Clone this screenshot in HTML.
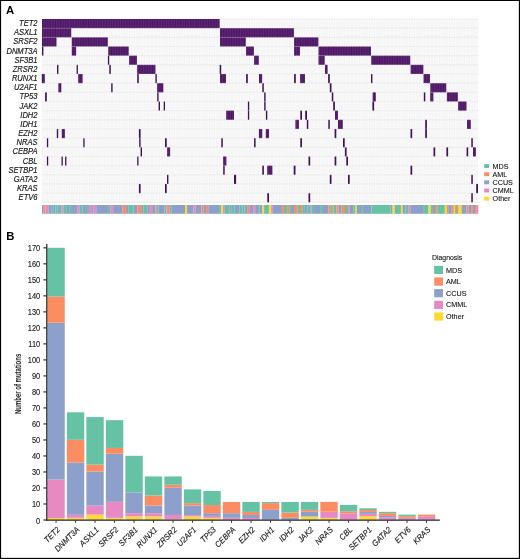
<!DOCTYPE html>
<html><head><meta charset="utf-8"><style>
html,body{margin:0;padding:0;background:#fff;}
svg{display:block;will-change:transform;}
text{font-family:"Liberation Sans", sans-serif;}
</style></head><body>
<svg width="520" height="559" viewBox="0 0 520 559">
<rect x="0" y="0" width="520" height="559" fill="#fff"/>
<defs><pattern id="cols" x="42" y="0" width="1.644" height="10" patternUnits="userSpaceOnUse"><rect x="0" y="0" width="0.5" height="10" fill="#2e0840" fill-opacity="0.75"/></pattern></defs>

<text x="6.0" y="14.4" font-size="11.3" font-weight="bold" fill="#000">A</text>
<text x="6.3" y="240.3" font-size="11.3" font-weight="bold" fill="#000">B</text>
<rect x="42.0" y="19.0" width="436.40" height="183.30" fill="#f9f9f9"/>
<path d="M42.00 19.0V202.30M44.50 19.0V202.30M47.00 19.0V202.30M49.50 19.0V202.30M52.00 19.0V202.30M54.50 19.0V202.30M57.00 19.0V202.30M59.50 19.0V202.30M62.00 19.0V202.30M64.50 19.0V202.30M67.00 19.0V202.30M69.50 19.0V202.30M72.00 19.0V202.30M74.50 19.0V202.30M77.00 19.0V202.30M79.50 19.0V202.30M82.00 19.0V202.30M84.50 19.0V202.30M87.00 19.0V202.30M89.50 19.0V202.30M92.00 19.0V202.30M94.50 19.0V202.30M97.00 19.0V202.30M99.50 19.0V202.30M102.00 19.0V202.30M104.50 19.0V202.30M107.00 19.0V202.30M109.50 19.0V202.30M112.00 19.0V202.30M114.50 19.0V202.30M117.00 19.0V202.30M119.50 19.0V202.30M122.00 19.0V202.30M124.50 19.0V202.30M127.00 19.0V202.30M129.50 19.0V202.30M132.00 19.0V202.30M134.50 19.0V202.30M137.00 19.0V202.30M139.50 19.0V202.30M142.00 19.0V202.30M144.50 19.0V202.30M147.00 19.0V202.30M149.50 19.0V202.30M152.00 19.0V202.30M154.50 19.0V202.30M157.00 19.0V202.30M159.50 19.0V202.30M162.00 19.0V202.30M164.50 19.0V202.30M167.00 19.0V202.30M169.50 19.0V202.30M172.00 19.0V202.30M174.50 19.0V202.30M177.00 19.0V202.30M179.50 19.0V202.30M182.00 19.0V202.30M184.50 19.0V202.30M187.00 19.0V202.30M189.50 19.0V202.30M192.00 19.0V202.30M194.50 19.0V202.30M197.00 19.0V202.30M199.50 19.0V202.30M202.00 19.0V202.30M204.50 19.0V202.30M207.00 19.0V202.30M209.50 19.0V202.30M212.00 19.0V202.30M214.50 19.0V202.30M217.00 19.0V202.30M219.50 19.0V202.30M222.00 19.0V202.30M224.50 19.0V202.30M227.00 19.0V202.30M229.50 19.0V202.30M232.00 19.0V202.30M234.50 19.0V202.30M237.00 19.0V202.30M239.50 19.0V202.30M242.00 19.0V202.30M244.50 19.0V202.30M247.00 19.0V202.30M249.50 19.0V202.30M252.00 19.0V202.30M254.50 19.0V202.30M257.00 19.0V202.30M259.50 19.0V202.30M262.00 19.0V202.30M264.50 19.0V202.30M267.00 19.0V202.30M269.50 19.0V202.30M272.00 19.0V202.30M274.50 19.0V202.30M277.00 19.0V202.30M279.50 19.0V202.30M282.00 19.0V202.30M284.50 19.0V202.30M287.00 19.0V202.30M289.50 19.0V202.30M292.00 19.0V202.30M294.50 19.0V202.30M297.00 19.0V202.30M299.50 19.0V202.30M302.00 19.0V202.30M304.50 19.0V202.30M307.00 19.0V202.30M309.50 19.0V202.30M312.00 19.0V202.30M314.50 19.0V202.30M317.00 19.0V202.30M319.50 19.0V202.30M322.00 19.0V202.30M324.50 19.0V202.30M327.00 19.0V202.30M329.50 19.0V202.30M332.00 19.0V202.30M334.50 19.0V202.30M337.00 19.0V202.30M339.50 19.0V202.30M342.00 19.0V202.30M344.50 19.0V202.30M347.00 19.0V202.30M349.50 19.0V202.30M352.00 19.0V202.30M354.50 19.0V202.30M357.00 19.0V202.30M359.50 19.0V202.30M362.00 19.0V202.30M364.50 19.0V202.30M367.00 19.0V202.30M369.50 19.0V202.30M372.00 19.0V202.30M374.50 19.0V202.30M377.00 19.0V202.30M379.50 19.0V202.30M382.00 19.0V202.30M384.50 19.0V202.30M387.00 19.0V202.30M389.50 19.0V202.30M392.00 19.0V202.30M394.50 19.0V202.30M397.00 19.0V202.30M399.50 19.0V202.30M402.00 19.0V202.30M404.50 19.0V202.30M407.00 19.0V202.30M409.50 19.0V202.30M412.00 19.0V202.30M414.50 19.0V202.30M417.00 19.0V202.30M419.50 19.0V202.30M422.00 19.0V202.30M424.50 19.0V202.30M427.00 19.0V202.30M429.50 19.0V202.30M432.00 19.0V202.30M434.50 19.0V202.30M437.00 19.0V202.30M439.50 19.0V202.30M442.00 19.0V202.30M444.50 19.0V202.30M447.00 19.0V202.30M449.50 19.0V202.30M452.00 19.0V202.30M454.50 19.0V202.30M457.00 19.0V202.30M459.50 19.0V202.30M462.00 19.0V202.30M464.50 19.0V202.30M467.00 19.0V202.30M469.50 19.0V202.30M472.00 19.0V202.30M474.50 19.0V202.30M477.00 19.0V202.30" stroke="#efefef" stroke-width="0.5" fill="none"/>
<path d="M42.0 19.00H478.4M42.0 28.16H478.4M42.0 37.33H478.4M42.0 46.49H478.4M42.0 55.66H478.4M42.0 64.82H478.4M42.0 73.99H478.4M42.0 83.16H478.4M42.0 92.32H478.4M42.0 101.48H478.4M42.0 110.65H478.4M42.0 119.81H478.4M42.0 128.98H478.4M42.0 138.14H478.4M42.0 147.31H478.4M42.0 156.47H478.4M42.0 165.64H478.4M42.0 174.80H478.4M42.0 183.97H478.4M42.0 193.13H478.4M42.0 202.30H478.4" stroke="#e6e6e6" stroke-width="0.7" fill="none"/>
<rect x="42.00" y="19.00" width="177.60" height="9.16" fill="#5f2578"/>
<rect x="42.00" y="19.00" width="177.60" height="9.16" fill="url(#cols)"/>
<rect x="42.00" y="28.16" width="29.20" height="9.16" fill="#5f2578"/>
<rect x="42.00" y="28.16" width="29.20" height="9.16" fill="url(#cols)"/>
<rect x="220.00" y="28.16" width="73.90" height="9.16" fill="#5f2578"/>
<rect x="220.00" y="28.16" width="73.90" height="9.16" fill="url(#cols)"/>
<rect x="42.00" y="37.33" width="14.50" height="9.16" fill="#5f2578"/>
<rect x="42.00" y="37.33" width="14.50" height="9.16" fill="url(#cols)"/>
<rect x="71.80" y="37.33" width="36.00" height="9.16" fill="#5f2578"/>
<rect x="71.80" y="37.33" width="36.00" height="9.16" fill="url(#cols)"/>
<rect x="220.00" y="37.33" width="25.80" height="9.16" fill="#5f2578"/>
<rect x="220.00" y="37.33" width="25.80" height="9.16" fill="url(#cols)"/>
<rect x="294.10" y="37.33" width="24.20" height="9.16" fill="#5f2578"/>
<rect x="294.10" y="37.33" width="24.20" height="9.16" fill="url(#cols)"/>
<rect x="42.00" y="46.49" width="1.40" height="9.16" fill="#401255"/>
<rect x="71.80" y="46.49" width="4.30" height="9.16" fill="#5f2578"/>
<rect x="71.80" y="46.49" width="4.30" height="9.16" fill="url(#cols)"/>
<rect x="108.30" y="46.49" width="20.40" height="9.16" fill="#5f2578"/>
<rect x="108.30" y="46.49" width="20.40" height="9.16" fill="url(#cols)"/>
<rect x="246.10" y="46.49" width="7.80" height="9.16" fill="#5f2578"/>
<rect x="246.10" y="46.49" width="7.80" height="9.16" fill="url(#cols)"/>
<rect x="294.10" y="46.49" width="5.90" height="9.16" fill="#5f2578"/>
<rect x="294.10" y="46.49" width="5.90" height="9.16" fill="url(#cols)"/>
<rect x="318.60" y="46.49" width="52.40" height="9.16" fill="#5f2578"/>
<rect x="318.60" y="46.49" width="52.40" height="9.16" fill="url(#cols)"/>
<rect x="107.90" y="55.66" width="1.30" height="9.16" fill="#401255"/>
<rect x="129.20" y="55.66" width="7.70" height="9.16" fill="#5f2578"/>
<rect x="129.20" y="55.66" width="7.70" height="9.16" fill="url(#cols)"/>
<rect x="254.20" y="55.66" width="4.60" height="9.16" fill="#5f2578"/>
<rect x="254.20" y="55.66" width="4.60" height="9.16" fill="url(#cols)"/>
<rect x="318.60" y="55.66" width="6.10" height="9.16" fill="#5f2578"/>
<rect x="318.60" y="55.66" width="6.10" height="9.16" fill="url(#cols)"/>
<rect x="371.30" y="55.66" width="38.90" height="9.16" fill="#5f2578"/>
<rect x="371.30" y="55.66" width="38.90" height="9.16" fill="url(#cols)"/>
<rect x="57.00" y="64.82" width="1.40" height="9.16" fill="#401255"/>
<rect x="76.60" y="64.82" width="1.30" height="9.16" fill="#401255"/>
<rect x="109.30" y="64.82" width="1.50" height="9.16" fill="#401255"/>
<rect x="137.20" y="64.82" width="18.20" height="9.16" fill="#5f2578"/>
<rect x="137.20" y="64.82" width="18.20" height="9.16" fill="url(#cols)"/>
<rect x="219.70" y="64.82" width="1.50" height="9.16" fill="#401255"/>
<rect x="325.00" y="64.82" width="2.60" height="9.16" fill="#5f2578"/>
<rect x="325.00" y="64.82" width="2.60" height="9.16" fill="url(#cols)"/>
<rect x="410.70" y="64.82" width="12.60" height="9.16" fill="#5f2578"/>
<rect x="410.70" y="64.82" width="12.60" height="9.16" fill="url(#cols)"/>
<rect x="41.80" y="73.99" width="3.00" height="9.16" fill="#5f2578"/>
<rect x="41.80" y="73.99" width="3.00" height="9.16" fill="url(#cols)"/>
<rect x="78.30" y="73.99" width="4.30" height="9.16" fill="#5f2578"/>
<rect x="78.30" y="73.99" width="4.30" height="9.16" fill="url(#cols)"/>
<rect x="137.20" y="73.99" width="1.60" height="9.16" fill="#401255"/>
<rect x="155.40" y="73.99" width="1.40" height="9.16" fill="#401255"/>
<rect x="220.00" y="73.99" width="6.00" height="9.16" fill="#5f2578"/>
<rect x="220.00" y="73.99" width="6.00" height="9.16" fill="url(#cols)"/>
<rect x="246.10" y="73.99" width="1.70" height="9.16" fill="#401255"/>
<rect x="259.00" y="73.99" width="3.10" height="9.16" fill="#5f2578"/>
<rect x="259.00" y="73.99" width="3.10" height="9.16" fill="url(#cols)"/>
<rect x="294.10" y="73.99" width="1.70" height="9.16" fill="#401255"/>
<rect x="300.20" y="73.99" width="4.80" height="9.16" fill="#5f2578"/>
<rect x="300.20" y="73.99" width="4.80" height="9.16" fill="url(#cols)"/>
<rect x="328.10" y="73.99" width="1.70" height="9.16" fill="#401255"/>
<rect x="371.00" y="73.99" width="1.40" height="9.16" fill="#401255"/>
<rect x="423.60" y="73.99" width="6.40" height="9.16" fill="#5f2578"/>
<rect x="423.60" y="73.99" width="6.40" height="9.16" fill="url(#cols)"/>
<rect x="58.40" y="83.16" width="2.90" height="9.16" fill="#5f2578"/>
<rect x="58.40" y="83.16" width="2.90" height="9.16" fill="url(#cols)"/>
<rect x="111.20" y="83.16" width="1.40" height="9.16" fill="#401255"/>
<rect x="157.20" y="83.16" width="6.10" height="9.16" fill="#5f2578"/>
<rect x="157.20" y="83.16" width="6.10" height="9.16" fill="url(#cols)"/>
<rect x="262.30" y="83.16" width="1.50" height="9.16" fill="#401255"/>
<rect x="329.80" y="83.16" width="1.70" height="9.16" fill="#401255"/>
<rect x="430.40" y="83.16" width="15.80" height="9.16" fill="#5f2578"/>
<rect x="430.40" y="83.16" width="15.80" height="9.16" fill="url(#cols)"/>
<rect x="45.10" y="92.32" width="1.70" height="9.16" fill="#401255"/>
<rect x="157.20" y="92.32" width="1.40" height="9.16" fill="#401255"/>
<rect x="264.20" y="92.32" width="1.40" height="9.16" fill="#401255"/>
<rect x="331.80" y="92.32" width="1.50" height="9.16" fill="#401255"/>
<rect x="372.70" y="92.32" width="3.10" height="9.16" fill="#5f2578"/>
<rect x="372.70" y="92.32" width="3.10" height="9.16" fill="url(#cols)"/>
<rect x="423.80" y="92.32" width="1.50" height="9.16" fill="#401255"/>
<rect x="430.30" y="92.32" width="3.00" height="9.16" fill="#5f2578"/>
<rect x="430.30" y="92.32" width="3.00" height="9.16" fill="url(#cols)"/>
<rect x="446.90" y="92.32" width="11.00" height="9.16" fill="#5f2578"/>
<rect x="446.90" y="92.32" width="11.00" height="9.16" fill="url(#cols)"/>
<rect x="158.60" y="101.48" width="1.40" height="9.16" fill="#401255"/>
<rect x="163.70" y="101.48" width="1.30" height="9.16" fill="#401255"/>
<rect x="247.90" y="101.48" width="1.30" height="9.16" fill="#401255"/>
<rect x="264.20" y="101.48" width="1.40" height="9.16" fill="#401255"/>
<rect x="333.20" y="101.48" width="1.70" height="9.16" fill="#401255"/>
<rect x="372.40" y="101.48" width="1.70" height="9.16" fill="#401255"/>
<rect x="458.20" y="101.48" width="8.20" height="9.16" fill="#5f2578"/>
<rect x="458.20" y="101.48" width="8.20" height="9.16" fill="url(#cols)"/>
<rect x="226.30" y="110.65" width="7.70" height="9.16" fill="#5f2578"/>
<rect x="226.30" y="110.65" width="7.70" height="9.16" fill="url(#cols)"/>
<rect x="247.90" y="110.65" width="1.30" height="9.16" fill="#401255"/>
<rect x="265.90" y="110.65" width="1.40" height="9.16" fill="#401255"/>
<rect x="300.30" y="110.65" width="1.70" height="9.16" fill="#401255"/>
<rect x="305.20" y="110.65" width="1.80" height="9.16" fill="#401255"/>
<rect x="335.00" y="110.65" width="3.00" height="9.16" fill="#5f2578"/>
<rect x="335.00" y="110.65" width="3.00" height="9.16" fill="url(#cols)"/>
<rect x="295.50" y="119.81" width="3.40" height="9.16" fill="#5f2578"/>
<rect x="295.50" y="119.81" width="3.40" height="9.16" fill="url(#cols)"/>
<rect x="306.80" y="119.81" width="1.50" height="9.16" fill="#401255"/>
<rect x="328.30" y="119.81" width="1.50" height="9.16" fill="#401255"/>
<rect x="338.00" y="119.81" width="4.80" height="9.16" fill="#5f2578"/>
<rect x="338.00" y="119.81" width="4.80" height="9.16" fill="url(#cols)"/>
<rect x="425.20" y="119.81" width="1.70" height="9.16" fill="#401255"/>
<rect x="467.00" y="119.81" width="3.80" height="9.16" fill="#5f2578"/>
<rect x="467.00" y="119.81" width="3.80" height="9.16" fill="url(#cols)"/>
<rect x="56.80" y="128.98" width="1.40" height="9.16" fill="#401255"/>
<rect x="61.80" y="128.98" width="3.10" height="9.16" fill="#5f2578"/>
<rect x="61.80" y="128.98" width="3.10" height="9.16" fill="url(#cols)"/>
<rect x="138.90" y="128.98" width="1.70" height="9.16" fill="#401255"/>
<rect x="258.90" y="128.98" width="3.30" height="9.16" fill="#5f2578"/>
<rect x="258.90" y="128.98" width="3.30" height="9.16" fill="url(#cols)"/>
<rect x="265.80" y="128.98" width="3.20" height="9.16" fill="#5f2578"/>
<rect x="265.80" y="128.98" width="3.20" height="9.16" fill="url(#cols)"/>
<rect x="334.60" y="128.98" width="1.70" height="9.16" fill="#401255"/>
<rect x="410.50" y="128.98" width="1.70" height="9.16" fill="#401255"/>
<rect x="425.20" y="128.98" width="1.70" height="9.16" fill="#401255"/>
<rect x="46.90" y="138.14" width="1.30" height="9.16" fill="#401255"/>
<rect x="83.30" y="138.14" width="1.30" height="9.16" fill="#401255"/>
<rect x="139.20" y="138.14" width="1.40" height="9.16" fill="#401255"/>
<rect x="165.00" y="138.14" width="1.70" height="9.16" fill="#401255"/>
<rect x="221.30" y="138.14" width="1.50" height="9.16" fill="#401255"/>
<rect x="254.10" y="138.14" width="1.50" height="9.16" fill="#401255"/>
<rect x="300.30" y="138.14" width="1.70" height="9.16" fill="#401255"/>
<rect x="343.00" y="138.14" width="1.70" height="9.16" fill="#401255"/>
<rect x="471.30" y="138.14" width="1.50" height="9.16" fill="#401255"/>
<rect x="140.60" y="147.31" width="1.40" height="9.16" fill="#401255"/>
<rect x="167.20" y="147.31" width="2.90" height="9.16" fill="#5f2578"/>
<rect x="167.20" y="147.31" width="2.90" height="9.16" fill="url(#cols)"/>
<rect x="344.90" y="147.31" width="1.70" height="9.16" fill="#401255"/>
<rect x="433.50" y="147.31" width="1.70" height="9.16" fill="#401255"/>
<rect x="446.40" y="147.31" width="1.70" height="9.16" fill="#401255"/>
<rect x="466.60" y="147.31" width="1.60" height="9.16" fill="#401255"/>
<rect x="473.00" y="147.31" width="2.90" height="9.16" fill="#5f2578"/>
<rect x="473.00" y="147.31" width="2.90" height="9.16" fill="url(#cols)"/>
<rect x="46.90" y="156.47" width="1.30" height="9.16" fill="#401255"/>
<rect x="61.50" y="156.47" width="1.30" height="9.16" fill="#401255"/>
<rect x="65.10" y="156.47" width="1.30" height="9.16" fill="#401255"/>
<rect x="137.20" y="156.47" width="1.30" height="9.16" fill="#401255"/>
<rect x="223.20" y="156.47" width="3.10" height="9.16" fill="#5f2578"/>
<rect x="223.20" y="156.47" width="3.10" height="9.16" fill="url(#cols)"/>
<rect x="308.50" y="156.47" width="1.70" height="9.16" fill="#401255"/>
<rect x="334.60" y="156.47" width="1.70" height="9.16" fill="#401255"/>
<rect x="346.30" y="156.47" width="1.70" height="9.16" fill="#401255"/>
<rect x="223.20" y="165.64" width="1.50" height="9.16" fill="#401255"/>
<rect x="262.30" y="165.64" width="1.60" height="9.16" fill="#401255"/>
<rect x="267.30" y="165.64" width="5.00" height="9.16" fill="#5f2578"/>
<rect x="267.30" y="165.64" width="5.00" height="9.16" fill="url(#cols)"/>
<rect x="293.70" y="165.64" width="1.80" height="9.16" fill="#401255"/>
<rect x="410.50" y="165.64" width="1.70" height="9.16" fill="#401255"/>
<rect x="167.00" y="174.80" width="1.40" height="9.16" fill="#401255"/>
<rect x="234.00" y="174.80" width="2.10" height="9.16" fill="#401255"/>
<rect x="329.80" y="174.80" width="1.70" height="9.16" fill="#401255"/>
<rect x="348.00" y="174.80" width="1.70" height="9.16" fill="#401255"/>
<rect x="471.30" y="174.80" width="1.50" height="9.16" fill="#401255"/>
<rect x="138.90" y="183.97" width="1.70" height="9.16" fill="#401255"/>
<rect x="165.00" y="183.97" width="1.70" height="9.16" fill="#401255"/>
<rect x="476.20" y="183.97" width="1.80" height="9.16" fill="#401255"/>
<rect x="267.30" y="193.13" width="1.70" height="9.16" fill="#401255"/>
<rect x="308.50" y="193.13" width="1.70" height="9.16" fill="#401255"/>
<rect x="471.30" y="193.13" width="1.50" height="9.16" fill="#401255"/>
<path d="M42.0 28.16H478.4M42.0 37.33H478.4M42.0 46.49H478.4M42.0 55.66H478.4M42.0 64.82H478.4M42.0 73.99H478.4M42.0 83.16H478.4M42.0 92.32H478.4M42.0 101.48H478.4M42.0 110.65H478.4M42.0 119.81H478.4M42.0 128.98H478.4M42.0 138.14H478.4M42.0 147.31H478.4M42.0 156.47H478.4M42.0 165.64H478.4M42.0 174.80H478.4M42.0 183.97H478.4M42.0 193.13H478.4" stroke="#fff" stroke-opacity="0.22" stroke-width="0.8" fill="none"/>
<text transform="translate(37.5,26.13) scale(0.9,1)" font-size="8.4" font-style="italic" text-anchor="end" fill="#1a1a1a" stroke="#1a1a1a" stroke-width="0.18">TET2</text>
<text transform="translate(37.5,35.30) scale(0.9,1)" font-size="8.4" font-style="italic" text-anchor="end" fill="#1a1a1a" stroke="#1a1a1a" stroke-width="0.18">ASXL1</text>
<text transform="translate(37.5,44.46) scale(0.9,1)" font-size="8.4" font-style="italic" text-anchor="end" fill="#1a1a1a" stroke="#1a1a1a" stroke-width="0.18">SRSF2</text>
<text transform="translate(37.5,53.63) scale(0.9,1)" font-size="8.4" font-style="italic" text-anchor="end" fill="#1a1a1a" stroke="#1a1a1a" stroke-width="0.18">DNMT3A</text>
<text transform="translate(37.5,62.79) scale(0.9,1)" font-size="8.4" font-style="italic" text-anchor="end" fill="#1a1a1a" stroke="#1a1a1a" stroke-width="0.18">SF3B1</text>
<text transform="translate(37.5,71.96) scale(0.9,1)" font-size="8.4" font-style="italic" text-anchor="end" fill="#1a1a1a" stroke="#1a1a1a" stroke-width="0.18">ZRSR2</text>
<text transform="translate(37.5,81.12) scale(0.9,1)" font-size="8.4" font-style="italic" text-anchor="end" fill="#1a1a1a" stroke="#1a1a1a" stroke-width="0.18">RUNX1</text>
<text transform="translate(37.5,90.29) scale(0.9,1)" font-size="8.4" font-style="italic" text-anchor="end" fill="#1a1a1a" stroke="#1a1a1a" stroke-width="0.18">U2AF1</text>
<text transform="translate(37.5,99.45) scale(0.9,1)" font-size="8.4" font-style="italic" text-anchor="end" fill="#1a1a1a" stroke="#1a1a1a" stroke-width="0.18">TP53</text>
<text transform="translate(37.5,108.62) scale(0.9,1)" font-size="8.4" font-style="italic" text-anchor="end" fill="#1a1a1a" stroke="#1a1a1a" stroke-width="0.18">JAK2</text>
<text transform="translate(37.5,117.78) scale(0.9,1)" font-size="8.4" font-style="italic" text-anchor="end" fill="#1a1a1a" stroke="#1a1a1a" stroke-width="0.18">IDH2</text>
<text transform="translate(37.5,126.95) scale(0.9,1)" font-size="8.4" font-style="italic" text-anchor="end" fill="#1a1a1a" stroke="#1a1a1a" stroke-width="0.18">IDH1</text>
<text transform="translate(37.5,136.11) scale(0.9,1)" font-size="8.4" font-style="italic" text-anchor="end" fill="#1a1a1a" stroke="#1a1a1a" stroke-width="0.18">EZH2</text>
<text transform="translate(37.5,145.28) scale(0.9,1)" font-size="8.4" font-style="italic" text-anchor="end" fill="#1a1a1a" stroke="#1a1a1a" stroke-width="0.18">NRAS</text>
<text transform="translate(37.5,154.44) scale(0.9,1)" font-size="8.4" font-style="italic" text-anchor="end" fill="#1a1a1a" stroke="#1a1a1a" stroke-width="0.18">CEBPA</text>
<text transform="translate(37.5,163.61) scale(0.9,1)" font-size="8.4" font-style="italic" text-anchor="end" fill="#1a1a1a" stroke="#1a1a1a" stroke-width="0.18">CBL</text>
<text transform="translate(37.5,172.77) scale(0.9,1)" font-size="8.4" font-style="italic" text-anchor="end" fill="#1a1a1a" stroke="#1a1a1a" stroke-width="0.18">SETBP1</text>
<text transform="translate(37.5,181.94) scale(0.9,1)" font-size="8.4" font-style="italic" text-anchor="end" fill="#1a1a1a" stroke="#1a1a1a" stroke-width="0.18">GATA2</text>
<text transform="translate(37.5,191.10) scale(0.9,1)" font-size="8.4" font-style="italic" text-anchor="end" fill="#1a1a1a" stroke="#1a1a1a" stroke-width="0.18">KRAS</text>
<text transform="translate(37.5,200.27) scale(0.9,1)" font-size="8.4" font-style="italic" text-anchor="end" fill="#1a1a1a" stroke="#1a1a1a" stroke-width="0.18">ETV6</text>
<rect x="42.00" y="205" width="1.65" height="8.8" fill="#8da0cb"/>
<rect x="43.60" y="205" width="2.05" height="8.8" fill="#fc8d62"/>
<rect x="45.60" y="205" width="3.15" height="8.8" fill="#e78ac3"/>
<rect x="48.70" y="205" width="3.05" height="8.8" fill="#8da0cb"/>
<rect x="51.70" y="205" width="2.15" height="8.8" fill="#66c2a5"/>
<rect x="53.80" y="205" width="1.75" height="8.8" fill="#8da0cb"/>
<rect x="55.50" y="205" width="1.85" height="8.8" fill="#66c2a5"/>
<rect x="57.30" y="205" width="1.65" height="8.8" fill="#8da0cb"/>
<rect x="58.90" y="205" width="2.65" height="8.8" fill="#66c2a5"/>
<rect x="61.50" y="205" width="1.95" height="8.8" fill="#e78ac3"/>
<rect x="63.40" y="205" width="3.45" height="8.8" fill="#66c2a5"/>
<rect x="66.80" y="205" width="3.05" height="8.8" fill="#8da0cb"/>
<rect x="69.80" y="205" width="2.25" height="8.8" fill="#66c2a5"/>
<rect x="72.00" y="205" width="5.65" height="8.8" fill="#8da0cb"/>
<rect x="77.60" y="205" width="2.25" height="8.8" fill="#e78ac3"/>
<rect x="79.80" y="205" width="2.65" height="8.8" fill="#66c2a5"/>
<rect x="82.40" y="205" width="3.55" height="8.8" fill="#8da0cb"/>
<rect x="85.90" y="205" width="2.15" height="8.8" fill="#66c2a5"/>
<rect x="88.00" y="205" width="0.95" height="8.8" fill="#8da0cb"/>
<rect x="88.90" y="205" width="2.35" height="8.8" fill="#e78ac3"/>
<rect x="91.20" y="205" width="2.05" height="8.8" fill="#8da0cb"/>
<rect x="93.20" y="205" width="3.05" height="8.8" fill="#e78ac3"/>
<rect x="96.20" y="205" width="11.75" height="8.8" fill="#8da0cb"/>
<rect x="107.90" y="205" width="2.25" height="8.8" fill="#66c2a5"/>
<rect x="110.10" y="205" width="3.05" height="8.8" fill="#e78ac3"/>
<rect x="113.10" y="205" width="9.55" height="8.8" fill="#8da0cb"/>
<rect x="122.60" y="205" width="3.55" height="8.8" fill="#fc8d62"/>
<rect x="126.10" y="205" width="2.65" height="8.8" fill="#8da0cb"/>
<rect x="128.70" y="205" width="4.85" height="8.8" fill="#66c2a5"/>
<rect x="133.50" y="205" width="3.95" height="8.8" fill="#8da0cb"/>
<rect x="137.40" y="205" width="3.85" height="8.8" fill="#fc8d62"/>
<rect x="141.20" y="205" width="2.25" height="8.8" fill="#8da0cb"/>
<rect x="143.40" y="205" width="4.35" height="8.8" fill="#66c2a5"/>
<rect x="147.70" y="205" width="1.35" height="8.8" fill="#8da0cb"/>
<rect x="149.00" y="205" width="3.15" height="8.8" fill="#e78ac3"/>
<rect x="152.10" y="205" width="3.45" height="8.8" fill="#8da0cb"/>
<rect x="155.50" y="205" width="1.35" height="8.8" fill="#fc8d62"/>
<rect x="156.80" y="205" width="1.75" height="8.8" fill="#66c2a5"/>
<rect x="158.50" y="205" width="6.15" height="8.8" fill="#8da0cb"/>
<rect x="164.60" y="205" width="1.75" height="8.8" fill="#66c2a5"/>
<rect x="166.30" y="205" width="1.75" height="8.8" fill="#e78ac3"/>
<rect x="168.00" y="205" width="1.85" height="8.8" fill="#fc8d62"/>
<rect x="169.80" y="205" width="1.75" height="8.8" fill="#66c2a5"/>
<rect x="171.50" y="205" width="13.55" height="8.8" fill="#8da0cb"/>
<rect x="185.00" y="205" width="2.15" height="8.8" fill="#ffd92f"/>
<rect x="187.10" y="205" width="6.15" height="8.8" fill="#8da0cb"/>
<rect x="193.20" y="205" width="2.15" height="8.8" fill="#e78ac3"/>
<rect x="195.30" y="205" width="6.15" height="8.8" fill="#8da0cb"/>
<rect x="201.40" y="205" width="2.15" height="8.8" fill="#fc8d62"/>
<rect x="203.50" y="205" width="2.65" height="8.8" fill="#8da0cb"/>
<rect x="206.10" y="205" width="2.25" height="8.8" fill="#fc8d62"/>
<rect x="208.30" y="205" width="10.85" height="8.8" fill="#8da0cb"/>
<rect x="219.10" y="205" width="2.25" height="8.8" fill="#66c2a5"/>
<rect x="221.30" y="205" width="1.75" height="8.8" fill="#ffd92f"/>
<rect x="223.00" y="205" width="1.85" height="8.8" fill="#e78ac3"/>
<rect x="224.80" y="205" width="4.75" height="8.8" fill="#66c2a5"/>
<rect x="229.50" y="205" width="2.25" height="8.8" fill="#8da0cb"/>
<rect x="231.70" y="205" width="3.05" height="8.8" fill="#66c2a5"/>
<rect x="234.70" y="205" width="4.85" height="8.8" fill="#8da0cb"/>
<rect x="239.50" y="205" width="3.05" height="8.8" fill="#66c2a5"/>
<rect x="242.50" y="205" width="2.05" height="8.8" fill="#8da0cb"/>
<rect x="244.50" y="205" width="1.55" height="8.8" fill="#66c2a5"/>
<rect x="246.00" y="205" width="1.75" height="8.8" fill="#8da0cb"/>
<rect x="247.70" y="205" width="2.15" height="8.8" fill="#fc8d62"/>
<rect x="249.80" y="205" width="3.95" height="8.8" fill="#8da0cb"/>
<rect x="253.70" y="205" width="2.25" height="8.8" fill="#e78ac3"/>
<rect x="255.90" y="205" width="2.15" height="8.8" fill="#8da0cb"/>
<rect x="258.00" y="205" width="1.55" height="8.8" fill="#66c2a5"/>
<rect x="259.50" y="205" width="2.95" height="8.8" fill="#8da0cb"/>
<rect x="262.40" y="205" width="1.75" height="8.8" fill="#ffd92f"/>
<rect x="264.10" y="205" width="4.85" height="8.8" fill="#66c2a5"/>
<rect x="268.90" y="205" width="2.25" height="8.8" fill="#ffd92f"/>
<rect x="271.10" y="205" width="1.75" height="8.8" fill="#e78ac3"/>
<rect x="272.80" y="205" width="9.15" height="8.8" fill="#8da0cb"/>
<rect x="281.90" y="205" width="2.15" height="8.8" fill="#fc8d62"/>
<rect x="284.00" y="205" width="3.15" height="8.8" fill="#66c2a5"/>
<rect x="287.10" y="205" width="2.15" height="8.8" fill="#fc8d62"/>
<rect x="289.20" y="205" width="1.85" height="8.8" fill="#66c2a5"/>
<rect x="291.00" y="205" width="3.05" height="8.8" fill="#8da0cb"/>
<rect x="294.00" y="205" width="3.45" height="8.8" fill="#fc8d62"/>
<rect x="297.40" y="205" width="2.65" height="8.8" fill="#66c2a5"/>
<rect x="300.00" y="205" width="2.25" height="8.8" fill="#fc8d62"/>
<rect x="302.20" y="205" width="2.65" height="8.8" fill="#66c2a5"/>
<rect x="304.80" y="205" width="2.65" height="8.8" fill="#8da0cb"/>
<rect x="307.40" y="205" width="2.65" height="8.8" fill="#66c2a5"/>
<rect x="310.00" y="205" width="1.35" height="8.8" fill="#e78ac3"/>
<rect x="311.30" y="205" width="2.65" height="8.8" fill="#66c2a5"/>
<rect x="313.90" y="205" width="6.95" height="8.8" fill="#8da0cb"/>
<rect x="320.80" y="205" width="2.25" height="8.8" fill="#66c2a5"/>
<rect x="323.00" y="205" width="5.25" height="8.8" fill="#8da0cb"/>
<rect x="328.20" y="205" width="2.15" height="8.8" fill="#fc8d62"/>
<rect x="330.30" y="205" width="1.85" height="8.8" fill="#66c2a5"/>
<rect x="332.10" y="205" width="1.35" height="8.8" fill="#fc8d62"/>
<rect x="333.40" y="205" width="3.05" height="8.8" fill="#66c2a5"/>
<rect x="336.40" y="205" width="2.15" height="8.8" fill="#fc8d62"/>
<rect x="338.50" y="205" width="3.15" height="8.8" fill="#8da0cb"/>
<rect x="341.60" y="205" width="3.45" height="8.8" fill="#fc8d62"/>
<rect x="345.00" y="205" width="3.15" height="8.8" fill="#66c2a5"/>
<rect x="348.10" y="205" width="1.75" height="8.8" fill="#e78ac3"/>
<rect x="349.80" y="205" width="3.55" height="8.8" fill="#8da0cb"/>
<rect x="353.30" y="205" width="1.75" height="8.8" fill="#66c2a5"/>
<rect x="355.00" y="205" width="1.75" height="8.8" fill="#ffd92f"/>
<rect x="356.70" y="205" width="4.35" height="8.8" fill="#8da0cb"/>
<rect x="361.00" y="205" width="1.85" height="8.8" fill="#66c2a5"/>
<rect x="362.80" y="205" width="8.75" height="8.8" fill="#8da0cb"/>
<rect x="371.50" y="205" width="19.05" height="8.8" fill="#66c2a5"/>
<rect x="390.50" y="205" width="2.15" height="8.8" fill="#8da0cb"/>
<rect x="392.60" y="205" width="2.25" height="8.8" fill="#ffd92f"/>
<rect x="394.80" y="205" width="6.15" height="8.8" fill="#66c2a5"/>
<rect x="400.90" y="205" width="1.75" height="8.8" fill="#ffd92f"/>
<rect x="402.60" y="205" width="3.05" height="8.8" fill="#8da0cb"/>
<rect x="405.60" y="205" width="3.15" height="8.8" fill="#66c2a5"/>
<rect x="408.70" y="205" width="2.15" height="8.8" fill="#e78ac3"/>
<rect x="410.80" y="205" width="13.05" height="8.8" fill="#8da0cb"/>
<rect x="423.80" y="205" width="4.75" height="8.8" fill="#66c2a5"/>
<rect x="428.50" y="205" width="2.25" height="8.8" fill="#ffd92f"/>
<rect x="430.70" y="205" width="2.25" height="8.8" fill="#66c2a5"/>
<rect x="432.90" y="205" width="2.15" height="8.8" fill="#8da0cb"/>
<rect x="435.00" y="205" width="2.25" height="8.8" fill="#fc8d62"/>
<rect x="437.20" y="205" width="7.65" height="8.8" fill="#66c2a5"/>
<rect x="444.80" y="205" width="2.15" height="8.8" fill="#ffd92f"/>
<rect x="446.90" y="205" width="1.35" height="8.8" fill="#fc8d62"/>
<rect x="448.20" y="205" width="3.55" height="8.8" fill="#8da0cb"/>
<rect x="451.70" y="205" width="2.15" height="8.8" fill="#fc8d62"/>
<rect x="453.80" y="205" width="1.35" height="8.8" fill="#ffd92f"/>
<rect x="455.10" y="205" width="1.85" height="8.8" fill="#66c2a5"/>
<rect x="456.90" y="205" width="1.75" height="8.8" fill="#fc8d62"/>
<rect x="458.60" y="205" width="3.05" height="8.8" fill="#ffd92f"/>
<rect x="461.60" y="205" width="4.85" height="8.8" fill="#8da0cb"/>
<rect x="466.40" y="205" width="2.15" height="8.8" fill="#fc8d62"/>
<rect x="468.50" y="205" width="2.65" height="8.8" fill="#8da0cb"/>
<rect x="471.10" y="205" width="1.75" height="8.8" fill="#fc8d62"/>
<rect x="472.80" y="205" width="2.25" height="8.8" fill="#8da0cb"/>
<rect x="475.00" y="205" width="1.85" height="8.8" fill="#fc8d62"/>
<rect x="476.80" y="205" width="1.55" height="8.8" fill="#e78ac3"/>
<rect x="484.2" y="164.10" width="5" height="4" fill="#66c2a5"/>
<text transform="translate(492.6,168.50) scale(0.93,1)" font-size="7.7" fill="#111" stroke="#111" stroke-width="0.1">MDS</text>
<rect x="484.2" y="172.23" width="5" height="4" fill="#fc8d62"/>
<text transform="translate(492.6,176.63) scale(0.93,1)" font-size="7.7" fill="#111" stroke="#111" stroke-width="0.1">AML</text>
<rect x="484.2" y="180.36" width="5" height="4" fill="#8da0cb"/>
<text transform="translate(492.6,184.76) scale(0.93,1)" font-size="7.7" fill="#111" stroke="#111" stroke-width="0.1">CCUS</text>
<rect x="484.2" y="188.49" width="5" height="4" fill="#e78ac3"/>
<text transform="translate(492.6,192.89) scale(0.93,1)" font-size="7.7" fill="#111" stroke="#111" stroke-width="0.1">CMML</text>
<rect x="484.2" y="196.62" width="5" height="4" fill="#ffd92f"/>
<text transform="translate(492.6,201.02) scale(0.93,1)" font-size="7.7" fill="#111" stroke="#111" stroke-width="0.1">Other</text>
<rect x="47.35" y="518.00" width="17.4" height="1.60" fill="#ffd92f"/>
<rect x="47.35" y="479.62" width="17.4" height="38.38" fill="#e78ac3"/>
<rect x="47.35" y="322.76" width="17.4" height="156.86" fill="#8da0cb"/>
<rect x="47.35" y="296.38" width="17.4" height="26.38" fill="#fc8d62"/>
<rect x="47.35" y="247.77" width="17.4" height="48.61" fill="#66c2a5"/>
<line x1="56.05" y1="520.5" x2="56.05" y2="522.9" stroke="#222" stroke-width="0.9"/>
<text transform="translate(60.45,530.30) rotate(-45) scale(0.9,1)" font-size="8.4" font-style="italic" text-anchor="end" fill="#1a1a1a" stroke="#1a1a1a" stroke-width="0.15">TET2</text>
<rect x="66.85" y="517.84" width="17.4" height="1.76" fill="#ffd92f"/>
<rect x="66.85" y="514.80" width="17.4" height="3.04" fill="#e78ac3"/>
<rect x="66.85" y="462.52" width="17.4" height="52.29" fill="#8da0cb"/>
<rect x="66.85" y="439.81" width="17.4" height="22.71" fill="#fc8d62"/>
<rect x="66.85" y="412.31" width="17.4" height="27.50" fill="#66c2a5"/>
<line x1="75.55" y1="520.5" x2="75.55" y2="522.9" stroke="#222" stroke-width="0.9"/>
<text transform="translate(79.95,530.30) rotate(-45) scale(0.9,1)" font-size="8.4" font-style="italic" text-anchor="end" fill="#1a1a1a" stroke="#1a1a1a" stroke-width="0.15">DNMT3A</text>
<rect x="86.35" y="514.64" width="17.4" height="4.96" fill="#ffd92f"/>
<rect x="86.35" y="505.53" width="17.4" height="9.11" fill="#e78ac3"/>
<rect x="86.35" y="471.63" width="17.4" height="33.90" fill="#8da0cb"/>
<rect x="86.35" y="464.59" width="17.4" height="7.04" fill="#fc8d62"/>
<rect x="86.35" y="417.10" width="17.4" height="47.49" fill="#66c2a5"/>
<line x1="95.05" y1="520.5" x2="95.05" y2="522.9" stroke="#222" stroke-width="0.9"/>
<text transform="translate(99.45,530.30) rotate(-45) scale(0.9,1)" font-size="8.4" font-style="italic" text-anchor="end" fill="#1a1a1a" stroke="#1a1a1a" stroke-width="0.15">ASXL1</text>
<rect x="105.85" y="517.84" width="17.4" height="1.76" fill="#ffd92f"/>
<rect x="105.85" y="501.85" width="17.4" height="15.99" fill="#e78ac3"/>
<rect x="105.85" y="453.72" width="17.4" height="48.13" fill="#8da0cb"/>
<rect x="105.85" y="447.96" width="17.4" height="5.76" fill="#fc8d62"/>
<rect x="105.85" y="420.14" width="17.4" height="27.82" fill="#66c2a5"/>
<line x1="114.55" y1="520.5" x2="114.55" y2="522.9" stroke="#222" stroke-width="0.9"/>
<text transform="translate(118.95,530.30) rotate(-45) scale(0.9,1)" font-size="8.4" font-style="italic" text-anchor="end" fill="#1a1a1a" stroke="#1a1a1a" stroke-width="0.15">SRSF2</text>
<rect x="125.35" y="516.40" width="17.4" height="3.20" fill="#ffd92f"/>
<rect x="125.35" y="513.20" width="17.4" height="3.20" fill="#e78ac3"/>
<rect x="125.35" y="492.58" width="17.4" height="20.63" fill="#8da0cb"/>
<rect x="125.35" y="455.80" width="17.4" height="36.78" fill="#66c2a5"/>
<line x1="134.05" y1="520.5" x2="134.05" y2="522.9" stroke="#222" stroke-width="0.9"/>
<text transform="translate(138.45,530.30) rotate(-45) scale(0.9,1)" font-size="8.4" font-style="italic" text-anchor="end" fill="#1a1a1a" stroke="#1a1a1a" stroke-width="0.15">SF3B1</text>
<rect x="144.85" y="516.40" width="17.4" height="3.20" fill="#ffd92f"/>
<rect x="144.85" y="513.20" width="17.4" height="3.20" fill="#e78ac3"/>
<rect x="144.85" y="505.53" width="17.4" height="7.68" fill="#8da0cb"/>
<rect x="144.85" y="495.46" width="17.4" height="10.07" fill="#fc8d62"/>
<rect x="144.85" y="476.43" width="17.4" height="19.03" fill="#66c2a5"/>
<line x1="153.55" y1="520.5" x2="153.55" y2="522.9" stroke="#222" stroke-width="0.9"/>
<text transform="translate(157.95,530.30) rotate(-45) scale(0.9,1)" font-size="8.4" font-style="italic" text-anchor="end" fill="#1a1a1a" stroke="#1a1a1a" stroke-width="0.15">RUNX1</text>
<rect x="164.35" y="519.12" width="17.4" height="0.48" fill="#ffd92f"/>
<rect x="164.35" y="514.96" width="17.4" height="4.16" fill="#e78ac3"/>
<rect x="164.35" y="487.78" width="17.4" height="27.18" fill="#8da0cb"/>
<rect x="164.35" y="484.74" width="17.4" height="3.04" fill="#fc8d62"/>
<rect x="164.35" y="476.43" width="17.4" height="8.31" fill="#66c2a5"/>
<line x1="173.05" y1="520.5" x2="173.05" y2="522.9" stroke="#222" stroke-width="0.9"/>
<text transform="translate(177.45,530.30) rotate(-45) scale(0.9,1)" font-size="8.4" font-style="italic" text-anchor="end" fill="#1a1a1a" stroke="#1a1a1a" stroke-width="0.15">ZRSR2</text>
<rect x="183.85" y="516.40" width="17.4" height="3.20" fill="#ffd92f"/>
<rect x="183.85" y="515.12" width="17.4" height="1.28" fill="#e78ac3"/>
<rect x="183.85" y="505.53" width="17.4" height="9.59" fill="#8da0cb"/>
<rect x="183.85" y="503.13" width="17.4" height="2.40" fill="#fc8d62"/>
<rect x="183.85" y="489.38" width="17.4" height="13.75" fill="#66c2a5"/>
<line x1="192.55" y1="520.5" x2="192.55" y2="522.9" stroke="#222" stroke-width="0.9"/>
<text transform="translate(196.95,530.30) rotate(-45) scale(0.9,1)" font-size="8.4" font-style="italic" text-anchor="end" fill="#1a1a1a" stroke="#1a1a1a" stroke-width="0.15">U2AF1</text>
<rect x="203.35" y="517.84" width="17.4" height="1.76" fill="#ffd92f"/>
<rect x="203.35" y="515.92" width="17.4" height="1.92" fill="#e78ac3"/>
<rect x="203.35" y="513.20" width="17.4" height="2.72" fill="#8da0cb"/>
<rect x="203.35" y="505.05" width="17.4" height="8.15" fill="#fc8d62"/>
<rect x="203.35" y="490.98" width="17.4" height="14.07" fill="#66c2a5"/>
<line x1="212.05" y1="520.5" x2="212.05" y2="522.9" stroke="#222" stroke-width="0.9"/>
<text transform="translate(216.45,530.30) rotate(-45) scale(0.9,1)" font-size="8.4" font-style="italic" text-anchor="end" fill="#1a1a1a" stroke="#1a1a1a" stroke-width="0.15">TP53</text>
<rect x="222.85" y="517.84" width="17.4" height="1.76" fill="#e78ac3"/>
<rect x="222.85" y="513.20" width="17.4" height="4.64" fill="#8da0cb"/>
<rect x="222.85" y="502.01" width="17.4" height="11.19" fill="#fc8d62"/>
<line x1="231.55" y1="520.5" x2="231.55" y2="522.9" stroke="#222" stroke-width="0.9"/>
<text transform="translate(235.95,530.30) rotate(-45) scale(0.9,1)" font-size="8.4" font-style="italic" text-anchor="end" fill="#1a1a1a" stroke="#1a1a1a" stroke-width="0.15">CEBPA</text>
<rect x="242.35" y="518.00" width="17.4" height="1.60" fill="#e78ac3"/>
<rect x="242.35" y="514.96" width="17.4" height="3.04" fill="#8da0cb"/>
<rect x="242.35" y="511.92" width="17.4" height="3.04" fill="#fc8d62"/>
<rect x="242.35" y="501.93" width="17.4" height="9.99" fill="#66c2a5"/>
<line x1="251.05" y1="520.5" x2="251.05" y2="522.9" stroke="#222" stroke-width="0.9"/>
<text transform="translate(255.45,530.30) rotate(-45) scale(0.9,1)" font-size="8.4" font-style="italic" text-anchor="end" fill="#1a1a1a" stroke="#1a1a1a" stroke-width="0.15">EZH2</text>
<rect x="261.85" y="509.85" width="17.4" height="9.75" fill="#8da0cb"/>
<rect x="261.85" y="503.13" width="17.4" height="6.72" fill="#fc8d62"/>
<rect x="261.85" y="501.93" width="17.4" height="1.20" fill="#66c2a5"/>
<line x1="270.55" y1="520.5" x2="270.55" y2="522.9" stroke="#222" stroke-width="0.9"/>
<text transform="translate(274.95,530.30) rotate(-45) scale(0.9,1)" font-size="8.4" font-style="italic" text-anchor="end" fill="#1a1a1a" stroke="#1a1a1a" stroke-width="0.15">IDH1</text>
<rect x="281.35" y="517.84" width="17.4" height="1.76" fill="#8da0cb"/>
<rect x="281.35" y="512.56" width="17.4" height="5.28" fill="#fc8d62"/>
<rect x="281.35" y="501.93" width="17.4" height="10.63" fill="#66c2a5"/>
<line x1="290.05" y1="520.5" x2="290.05" y2="522.9" stroke="#222" stroke-width="0.9"/>
<text transform="translate(294.45,530.30) rotate(-45) scale(0.9,1)" font-size="8.4" font-style="italic" text-anchor="end" fill="#1a1a1a" stroke="#1a1a1a" stroke-width="0.15">IDH2</text>
<rect x="300.85" y="516.56" width="17.4" height="3.04" fill="#ffd92f"/>
<rect x="300.85" y="511.76" width="17.4" height="4.80" fill="#8da0cb"/>
<rect x="300.85" y="509.85" width="17.4" height="1.92" fill="#fc8d62"/>
<rect x="300.85" y="501.93" width="17.4" height="7.92" fill="#66c2a5"/>
<line x1="309.55" y1="520.5" x2="309.55" y2="522.9" stroke="#222" stroke-width="0.9"/>
<text transform="translate(313.95,530.30) rotate(-45) scale(0.9,1)" font-size="8.4" font-style="italic" text-anchor="end" fill="#1a1a1a" stroke="#1a1a1a" stroke-width="0.15">JAK2</text>
<rect x="320.35" y="517.84" width="17.4" height="1.76" fill="#ffd92f"/>
<rect x="320.35" y="511.76" width="17.4" height="6.08" fill="#e78ac3"/>
<rect x="320.35" y="501.93" width="17.4" height="9.83" fill="#fc8d62"/>
<line x1="329.05" y1="520.5" x2="329.05" y2="522.9" stroke="#222" stroke-width="0.9"/>
<text transform="translate(333.45,530.30) rotate(-45) scale(0.9,1)" font-size="8.4" font-style="italic" text-anchor="end" fill="#1a1a1a" stroke="#1a1a1a" stroke-width="0.15">NRAS</text>
<rect x="339.85" y="513.36" width="17.4" height="6.24" fill="#e78ac3"/>
<rect x="339.85" y="511.29" width="17.4" height="2.08" fill="#fc8d62"/>
<rect x="339.85" y="504.89" width="17.4" height="6.40" fill="#66c2a5"/>
<line x1="348.55" y1="520.5" x2="348.55" y2="522.9" stroke="#222" stroke-width="0.9"/>
<text transform="translate(352.95,530.30) rotate(-45) scale(0.9,1)" font-size="8.4" font-style="italic" text-anchor="end" fill="#1a1a1a" stroke="#1a1a1a" stroke-width="0.15">CBL</text>
<rect x="359.35" y="516.24" width="17.4" height="3.36" fill="#ffd92f"/>
<rect x="359.35" y="513.84" width="17.4" height="2.40" fill="#e78ac3"/>
<rect x="359.35" y="511.92" width="17.4" height="1.92" fill="#8da0cb"/>
<rect x="359.35" y="510.01" width="17.4" height="1.92" fill="#fc8d62"/>
<rect x="359.35" y="508.25" width="17.4" height="1.76" fill="#66c2a5"/>
<line x1="368.05" y1="520.5" x2="368.05" y2="522.9" stroke="#222" stroke-width="0.9"/>
<text transform="translate(372.45,530.30) rotate(-45) scale(0.9,1)" font-size="8.4" font-style="italic" text-anchor="end" fill="#1a1a1a" stroke="#1a1a1a" stroke-width="0.15">SETBP1</text>
<rect x="378.85" y="517.20" width="17.4" height="2.40" fill="#e78ac3"/>
<rect x="378.85" y="515.92" width="17.4" height="1.28" fill="#8da0cb"/>
<rect x="378.85" y="513.20" width="17.4" height="2.72" fill="#fc8d62"/>
<rect x="378.85" y="511.84" width="17.4" height="1.36" fill="#66c2a5"/>
<line x1="387.55" y1="520.5" x2="387.55" y2="522.9" stroke="#222" stroke-width="0.9"/>
<text transform="translate(391.95,530.30) rotate(-45) scale(0.9,1)" font-size="8.4" font-style="italic" text-anchor="end" fill="#1a1a1a" stroke="#1a1a1a" stroke-width="0.15">GATA2</text>
<rect x="398.35" y="517.84" width="17.4" height="1.76" fill="#e78ac3"/>
<rect x="398.35" y="516.24" width="17.4" height="1.60" fill="#fc8d62"/>
<rect x="398.35" y="514.64" width="17.4" height="1.60" fill="#66c2a5"/>
<line x1="407.05" y1="520.5" x2="407.05" y2="522.9" stroke="#222" stroke-width="0.9"/>
<text transform="translate(411.45,530.30) rotate(-45) scale(0.9,1)" font-size="8.4" font-style="italic" text-anchor="end" fill="#1a1a1a" stroke="#1a1a1a" stroke-width="0.15">ETV6</text>
<rect x="417.85" y="516.24" width="17.4" height="3.36" fill="#e78ac3"/>
<rect x="417.85" y="514.64" width="17.4" height="1.60" fill="#fc8d62"/>
<line x1="426.55" y1="520.5" x2="426.55" y2="522.9" stroke="#222" stroke-width="0.9"/>
<text transform="translate(430.95,530.30) rotate(-45) scale(0.9,1)" font-size="8.4" font-style="italic" text-anchor="end" fill="#1a1a1a" stroke="#1a1a1a" stroke-width="0.15">KRAS</text>
<line x1="46.8" y1="244.0" x2="46.8" y2="520.7" stroke="#1e1e1e" stroke-width="1.2"/>
<line x1="46.2" y1="520.1" x2="439.8" y2="520.1" stroke="#1e1e1e" stroke-width="1.2"/>
<line x1="43.4" y1="520.00" x2="46.5" y2="520.00" stroke="#1e1e1e" stroke-width="1.1"/>
<text transform="translate(40.2,523.50) scale(0.9,1)" font-size="8.3" text-anchor="end" fill="#1a1a1a" stroke="#1a1a1a" stroke-width="0.12">0</text>
<line x1="43.4" y1="503.99" x2="46.5" y2="503.99" stroke="#1e1e1e" stroke-width="1.1"/>
<text transform="translate(40.2,507.49) scale(0.9,1)" font-size="8.3" text-anchor="end" fill="#1a1a1a" stroke="#1a1a1a" stroke-width="0.12">10</text>
<line x1="43.4" y1="487.98" x2="46.5" y2="487.98" stroke="#1e1e1e" stroke-width="1.1"/>
<text transform="translate(40.2,491.48) scale(0.9,1)" font-size="8.3" text-anchor="end" fill="#1a1a1a" stroke="#1a1a1a" stroke-width="0.12">20</text>
<line x1="43.4" y1="471.97" x2="46.5" y2="471.97" stroke="#1e1e1e" stroke-width="1.1"/>
<text transform="translate(40.2,475.47) scale(0.9,1)" font-size="8.3" text-anchor="end" fill="#1a1a1a" stroke="#1a1a1a" stroke-width="0.12">30</text>
<line x1="43.4" y1="455.96" x2="46.5" y2="455.96" stroke="#1e1e1e" stroke-width="1.1"/>
<text transform="translate(40.2,459.46) scale(0.9,1)" font-size="8.3" text-anchor="end" fill="#1a1a1a" stroke="#1a1a1a" stroke-width="0.12">40</text>
<line x1="43.4" y1="439.95" x2="46.5" y2="439.95" stroke="#1e1e1e" stroke-width="1.1"/>
<text transform="translate(40.2,443.45) scale(0.9,1)" font-size="8.3" text-anchor="end" fill="#1a1a1a" stroke="#1a1a1a" stroke-width="0.12">50</text>
<line x1="43.4" y1="423.94" x2="46.5" y2="423.94" stroke="#1e1e1e" stroke-width="1.1"/>
<text transform="translate(40.2,427.44) scale(0.9,1)" font-size="8.3" text-anchor="end" fill="#1a1a1a" stroke="#1a1a1a" stroke-width="0.12">60</text>
<line x1="43.4" y1="407.93" x2="46.5" y2="407.93" stroke="#1e1e1e" stroke-width="1.1"/>
<text transform="translate(40.2,411.43) scale(0.9,1)" font-size="8.3" text-anchor="end" fill="#1a1a1a" stroke="#1a1a1a" stroke-width="0.12">70</text>
<line x1="43.4" y1="391.92" x2="46.5" y2="391.92" stroke="#1e1e1e" stroke-width="1.1"/>
<text transform="translate(40.2,395.42) scale(0.9,1)" font-size="8.3" text-anchor="end" fill="#1a1a1a" stroke="#1a1a1a" stroke-width="0.12">80</text>
<line x1="43.4" y1="375.91" x2="46.5" y2="375.91" stroke="#1e1e1e" stroke-width="1.1"/>
<text transform="translate(40.2,379.41) scale(0.9,1)" font-size="8.3" text-anchor="end" fill="#1a1a1a" stroke="#1a1a1a" stroke-width="0.12">90</text>
<line x1="43.4" y1="359.90" x2="46.5" y2="359.90" stroke="#1e1e1e" stroke-width="1.1"/>
<text transform="translate(40.2,363.40) scale(0.9,1)" font-size="8.3" text-anchor="end" fill="#1a1a1a" stroke="#1a1a1a" stroke-width="0.12">100</text>
<line x1="43.4" y1="343.89" x2="46.5" y2="343.89" stroke="#1e1e1e" stroke-width="1.1"/>
<text transform="translate(40.2,347.39) scale(0.9,1)" font-size="8.3" text-anchor="end" fill="#1a1a1a" stroke="#1a1a1a" stroke-width="0.12">110</text>
<line x1="43.4" y1="327.88" x2="46.5" y2="327.88" stroke="#1e1e1e" stroke-width="1.1"/>
<text transform="translate(40.2,331.38) scale(0.9,1)" font-size="8.3" text-anchor="end" fill="#1a1a1a" stroke="#1a1a1a" stroke-width="0.12">120</text>
<line x1="43.4" y1="311.87" x2="46.5" y2="311.87" stroke="#1e1e1e" stroke-width="1.1"/>
<text transform="translate(40.2,315.37) scale(0.9,1)" font-size="8.3" text-anchor="end" fill="#1a1a1a" stroke="#1a1a1a" stroke-width="0.12">130</text>
<line x1="43.4" y1="295.86" x2="46.5" y2="295.86" stroke="#1e1e1e" stroke-width="1.1"/>
<text transform="translate(40.2,299.36) scale(0.9,1)" font-size="8.3" text-anchor="end" fill="#1a1a1a" stroke="#1a1a1a" stroke-width="0.12">140</text>
<line x1="43.4" y1="279.85" x2="46.5" y2="279.85" stroke="#1e1e1e" stroke-width="1.1"/>
<text transform="translate(40.2,283.35) scale(0.9,1)" font-size="8.3" text-anchor="end" fill="#1a1a1a" stroke="#1a1a1a" stroke-width="0.12">150</text>
<line x1="43.4" y1="263.84" x2="46.5" y2="263.84" stroke="#1e1e1e" stroke-width="1.1"/>
<text transform="translate(40.2,267.34) scale(0.9,1)" font-size="8.3" text-anchor="end" fill="#1a1a1a" stroke="#1a1a1a" stroke-width="0.12">160</text>
<line x1="43.4" y1="247.83" x2="46.5" y2="247.83" stroke="#1e1e1e" stroke-width="1.1"/>
<text transform="translate(40.2,251.33) scale(0.9,1)" font-size="8.3" text-anchor="end" fill="#1a1a1a" stroke="#1a1a1a" stroke-width="0.12">170</text>
<text transform="translate(20.5,383.9) rotate(-90)" font-size="9.1" font-weight="bold" text-anchor="middle" textLength="60.4" lengthAdjust="spacingAndGlyphs" fill="#222">Number of mutations</text>
<text transform="translate(432,260.2) scale(0.95,1)" font-size="7.25" fill="#111" stroke="#111" stroke-width="0.1">Diagnosis</text>
<rect x="434.2" y="265.80" width="8.8" height="8.2" fill="#66c2a5"/>
<text transform="translate(446.0,272.50) scale(0.95,1)" font-size="7.6" fill="#111" stroke="#111" stroke-width="0.1">MDS</text>
<rect x="434.2" y="277.45" width="8.8" height="8.2" fill="#fc8d62"/>
<text transform="translate(446.0,284.15) scale(0.95,1)" font-size="7.6" fill="#111" stroke="#111" stroke-width="0.1">AML</text>
<rect x="434.2" y="289.10" width="8.8" height="8.2" fill="#8da0cb"/>
<text transform="translate(446.0,295.80) scale(0.95,1)" font-size="7.6" fill="#111" stroke="#111" stroke-width="0.1">CCUS</text>
<rect x="434.2" y="300.75" width="8.8" height="8.2" fill="#e78ac3"/>
<text transform="translate(446.0,307.45) scale(0.95,1)" font-size="7.6" fill="#111" stroke="#111" stroke-width="0.1">CMML</text>
<rect x="434.2" y="312.40" width="8.8" height="8.2" fill="#ffd92f"/>
<text transform="translate(446.0,319.10) scale(0.95,1)" font-size="7.6" fill="#111" stroke="#111" stroke-width="0.1">Other</text>
<rect x="0" y="0" width="1.1" height="559" fill="#000"/>
<rect x="0" y="0" width="520" height="1.0" fill="#000"/>
<rect x="518.85" y="0" width="1.15" height="559" fill="#000"/>
<rect x="0" y="557.85" width="520" height="1.15" fill="#000"/>
</svg></body></html>
